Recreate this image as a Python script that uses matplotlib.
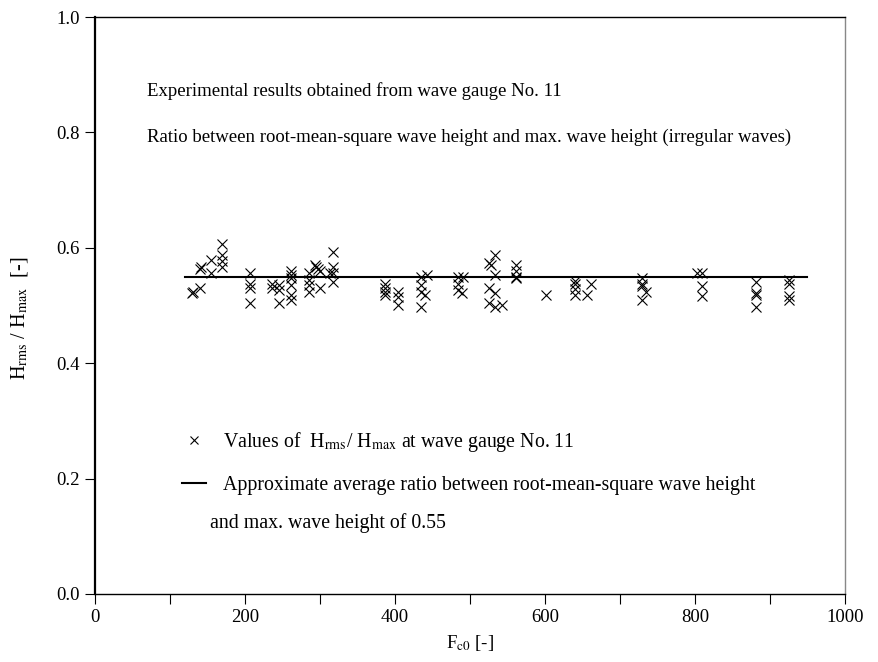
import matplotlib
matplotlib.use("Agg")
import matplotlib.pyplot as plt
from matplotlib.lines import Line2D

plt.rcParams['font.family'] = ['Liberation Serif', 'DejaVu Serif']
plt.rcParams['mathtext.fontset'] = 'stix'

# F_c0 values and H_rms/H_max ratios
f_c0 = [130, 131, 140, 140, 141, 155, 155, 170, 170, 170, 170,
        207, 207, 207, 207, 236, 236, 245, 245, 245,
        262, 262, 262, 262, 262, 262, 285, 285, 285, 285,
        294, 295, 298, 300, 300, 313, 318, 318, 318, 318,
        387, 387, 387, 387, 404, 404, 404,
        435, 435, 435, 440, 435, 443,
        484, 484, 484, 489, 491,
        526, 528, 533, 533, 526, 533, 526, 533, 543,
        562, 562, 562, 562, 602,
        640, 640, 640, 640, 656, 662,
        729, 729, 729, 735, 729,
        803, 809, 809, 809,
        882, 882, 882, 882,
        926, 926, 926, 926]
ratio = [0.521, 0.524, 0.530, 0.564, 0.567, 0.579, 0.557, 0.607, 0.588, 0.577, 0.567,
         0.556, 0.538, 0.530, 0.504, 0.538, 0.530, 0.536, 0.527, 0.504,
         0.559, 0.553, 0.547, 0.536, 0.518, 0.510, 0.556, 0.544, 0.536, 0.524,
         0.570, 0.567, 0.564, 0.559, 0.530, 0.556, 0.593, 0.567, 0.556, 0.541,
         0.538, 0.530, 0.524, 0.518, 0.524, 0.515, 0.501,
         0.550, 0.536, 0.524, 0.519, 0.498, 0.552,
         0.550, 0.538, 0.527, 0.521, 0.550,
         0.573, 0.570, 0.588, 0.553, 0.530, 0.521, 0.504, 0.498, 0.501,
         0.571, 0.560, 0.550, 0.547, 0.519,
         0.543, 0.537, 0.528, 0.519, 0.519, 0.537,
         0.547, 0.538, 0.533, 0.524, 0.509,
         0.556, 0.556, 0.533, 0.516,
         0.541, 0.521, 0.518, 0.498,
         0.544, 0.538, 0.516, 0.509]

avg_x = [120, 950]
avg_y = [0.55, 0.55]

x_ticks = [0, 100, 200, 300, 400, 500, 600, 700, 800, 900, 1000]
x_labels = ['0', '', '200', '', '400', '', '600', '', '800', '', '1000']
y_ticks = [0.0, 0.2, 0.4, 0.6, 0.8, 1.0]
y_labels = ['0.0', '0.2', '0.4', '0.6', '0.8', '1.0']

fig = plt.figure(figsize=(8.79, 6.62), dpi=100)
ax = fig.add_axes([95/879, 1-594/662, (845-95)/879, (594-17)/662])

ax.plot(f_c0, ratio, linestyle='none', marker='x', markersize=6.8,
        markeredgewidth=0.8, color='black')
ax.plot(avg_x, avg_y, color='black', linewidth=1.5)

ax.set_xlim(0, 1000)
ax.set_ylim(0, 1.0)
ax.set_xticks(x_ticks)
ax.set_xticklabels(x_labels)
ax.set_yticks(y_ticks)
ax.set_yticklabels(y_labels)
ax.tick_params(direction='out', length=7, width=0.8, labelsize=13.5, pad=4)

for s in ['top', 'bottom']:
    ax.spines[s].set_linewidth(1.0)
ax.spines['left'].set_linewidth(1.6)
ax.spines['right'].set_linewidth(1.0)
ax.spines['right'].set_color('#888888')

ax.set_xlabel(r'F$_{\mathrm{c0}}$ [-]', fontsize=13.5, labelpad=5)
ax.set_ylabel(r'H$_{\mathrm{rms}}$ / H$_{\mathrm{max}}$  [-]', fontsize=14.5)
ax.yaxis.set_label_coords(-0.087, 0.478)

ax.text(0.069, 0.872, 'Experimental results obtained from wave gauge No. 11',
        transform=ax.transAxes, fontsize=13.5, va='center', ha='left')
ax.text(0.069, 0.792, 'Ratio between root-mean-square wave height and max. wave height (irregular waves)',
        transform=ax.transAxes, fontsize=13.5, va='center', ha='left')

handles = [Line2D([], [], linestyle='none', marker='x', markersize=6, markeredgewidth=0.8, color='black'),
           Line2D([], [], color='black', linewidth=1.5)]
labels = [r'Values of  H$_{\mathrm{rms}}$/ H$_{\mathrm{max}}$ at wave gauge No. 11',
          'Approximate average ratio between root-mean-square wave height']
leg = ax.legend(handles, labels, loc='upper left', bbox_to_anchor=(0.1156, 0.284),
                frameon=False, fontsize=14.3, labelspacing=1.1, handlelength=1.2,
                handletextpad=0.9, borderaxespad=0, borderpad=0)
ax.text(0.153, 0.123, 'and max. wave height of 0.55', transform=ax.transAxes,
        fontsize=14.3, va='center', ha='left')

fig.savefig('out.png', dpi=100)
